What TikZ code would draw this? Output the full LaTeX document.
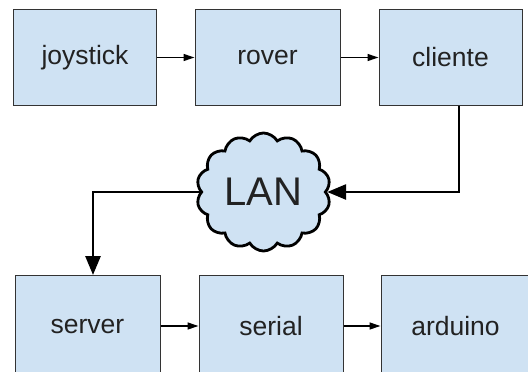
\documentclass[tikz,border=0pt]{standalone}
\usepackage{fontspec}
\setmainfont{Liberation Sans}
\usetikzlibrary{shapes.symbols,arrows.meta,positioning}
\definecolor{boxfill}{HTML}{CFE2F3}
\definecolor{boxline}{HTML}{333333}
\definecolor{txt}{HTML}{222222}
\tikzset{
  blk/.style={draw=boxline, line width=1pt, fill=boxfill, minimum width=144pt, minimum height=96pt, inner sep=0pt, text=txt, font=\fontsize{26.5}{30}\selectfont},
  lowblk/.style={blk, minimum height=102pt},
  thinarrow/.style={draw=black, line width=1.3pt, -{Triangle[length=11pt,width=7pt]}},
  thickarrow/.style={draw=black, line width=2.8pt, -{Triangle[length=19pt,width=15pt]}},
  lancloud/.style={cloud, cloud puffs=14, cloud puff arc=120, aspect=1.15, draw=black, line width=2.8pt, fill=boxfill, minimum width=134pt, minimum height=118pt, inner sep=0pt, text=txt, font=\fontsize{40}{44}\selectfont}
}
\begin{document}
\begin{tikzpicture}[x=1pt,y=-1pt]
\useasboundingbox (0,0) rectangle (528,372);
\clip (0,0) rectangle (528,372);
\node[blk, minimum width=143pt] (joy) at (85,57.5) {joystick};
\node[blk, minimum width=145pt] (rov) at (267.5,57.5) {rover};
\node[blk, minimum width=143pt] (cli) at (450.5,57.5) {cliente};
\node[lowblk, minimum width=145pt] (srv) at (87.5,326) {server};
\node[lowblk, minimum width=144pt] (ser) at (271,326) {serial};
\node[lowblk, minimum width=149pt] (ard) at (455.5,326) {arduino};
\node[lancloud] (lan) at (263.5,192) {LAN};
\coordinate (c1) at (459,193);
\coordinate (s1) at (93,275);
\draw[thinarrow] (joy) -- (rov);
\draw[thinarrow] (rov) -- (cli);
\draw[thinarrow] (srv) -- (ser);
\draw[thinarrow] (ser) -- (ard);
\draw[thickarrow] (cli.south -| c1) |- (lan.east);
\draw[thickarrow] (lan.west) -| (s1);
\end{tikzpicture}
\end{document}
